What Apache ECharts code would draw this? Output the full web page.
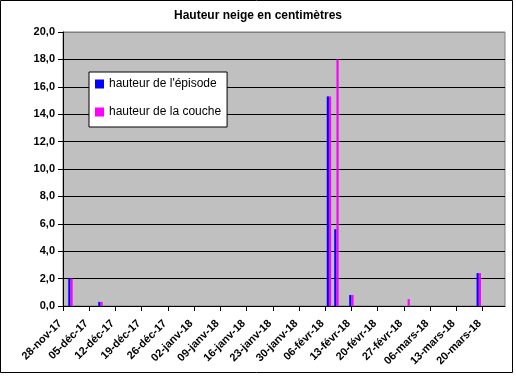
<!DOCTYPE html>
<html lang="fr">

<head>
  <meta charset="UTF-8">
  <title>Hauteur neige</title>
  <script src="https://cdn.jsdelivr.net/npm/echarts@6/dist/echarts.min.js"></script>
  <style>
    body { margin: 0; background: #fff; }
    #chart { width: 516px; height: 376px; }
  </style>
</head>

<body>
  <div id="chart"></div>
  <script>
    // axe des dates : un jour par catégorie, du 28-nov-17 au 26-mars-18
    const startDay = [2017, 10, 28]
    const dayCount = 119
    const moisFr = ['janv', 'févr', 'mars', 'avr', 'mai', 'juin', 'juil', 'août', 'sept', 'oct', 'nov', 'déc']

    // relevés
    const eventDates = ['30-nov-17', '08-déc-17', '07-févr-18', '09-févr-18', '13-févr-18', '28-févr-18', '19-mars-18']
    const episode = [2.0, 0.3, 15.3, 5.6, 0.8, 0, 2.4]
    const couche = [2.0, 0.3, 15.3, 18.0, 0.8, 0.5, 2.4]

    const yTicks = [0, 2, 4, 6, 8, 10, 12, 14, 16, 18, 20]

    function fmtDate(d) {
      let dd = String(d.getUTCDate()).padStart(2, '0')
      let yy = String(d.getUTCFullYear()).slice(2)
      return dd + '-' + moisFr[d.getUTCMonth()] + '-' + yy
    }

    let days = []
    for (let i = 0; i < dayCount; i++) {
      days.push(fmtDate(new Date(Date.UTC(startDay[0], startDay[1], startDay[2] + i))))
    }

    let episodeData = days.map(() => null)
    let coucheData = days.map(() => null)
    eventDates.forEach((d, k) => {
      let idx = days.indexOf(d)
      episodeData[idx] = episode[k]
      coucheData[idx] = couche[k]
    })

    let chart = echarts.init(document.getElementById('chart'))

    let splitColors = yTicks.map((t, i) => i === yTicks.length - 1 ? '#808080' : '#000000')

    let option = {
      animation: false,
      title: {
        text: 'Hauteur neige en centimètres',
        left: 'center',
        top: 10,
        padding: 0,
        textStyle: { fontFamily: 'Liberation Sans', fontSize: 12, fontWeight: 'bold', color: '#000' }
      },
      legend: {
        orient: 'vertical',
        left: 89,
        top: 72,
        padding: [5, 6, 8, 6],
        itemGap: 14,
        itemWidth: 9,
        itemHeight: 9,
        icon: 'rect',
        backgroundColor: '#ffffff',
        borderColor: '#000000',
        borderWidth: 1,
        textStyle: { fontFamily: 'Liberation Sans', fontSize: 12, color: '#000', lineHeight: 14 }
      },
      grid: {
        left: 63,
        right: 11,
        top: 32,
        bottom: 70,
        show: true,
        backgroundColor: '#C0C0C0',
        borderColor: '#808080',
        borderWidth: 1
      },
      xAxis: {
        type: 'category',
        data: days,
        boundaryGap: false,
        axisLine: { lineStyle: { color: '#000', width: 1 } },
        axisTick: {
          interval: (i) => i % 7 === 0,
          length: 5,
          lineStyle: { color: '#000' }
        },
        axisLabel: {
          interval: (i) => i % 7 === 0,
          rotate: 45,
          margin: 13,
          padding: [0, 4, 0, 0],
          fontFamily: 'Liberation Sans',
          fontSize: 11,
          fontWeight: 'bold',
          color: '#000'
        },
        splitLine: { show: false }
      },
      yAxis: {
        type: 'value',
        min: 0,
        max: 20,
        interval: 2,
        axisLine: { show: true, lineStyle: { color: '#000', width: 1 } },
        axisTick: { show: true, length: 5, lineStyle: { color: '#000' } },
        axisLabel: {
          margin: 8,
          fontFamily: 'Liberation Sans',
          fontSize: 11,
          fontWeight: 'bold',
          color: '#000',
          formatter: (v) => v.toFixed(1).replace('.', ',')
        },
        splitLine: { show: true, lineStyle: { color: splitColors, width: 1 } }
      },
      series: [
        {
          name: "hauteur de l'épisode",
          type: 'bar',
          data: episodeData,
          barWidth: 2.2,
          barGap: '0%',
          itemStyle: { color: '#0000FF' }
        },
        {
          name: 'hauteur de la couche',
          type: 'bar',
          data: coucheData,
          barWidth: 2.2,
          itemStyle: { color: '#FF00FF' }
        }
      ],
      graphic: [
        {
          type: 'rect',
          shape: { x: 0.5, y: 0.5, width: 512, height: 372 },
          style: { fill: 'none', stroke: '#000', lineWidth: 1 },
          silent: true
        }
      ]
    }

    chart.setOption(option)
  </script>
</body>

</html>
